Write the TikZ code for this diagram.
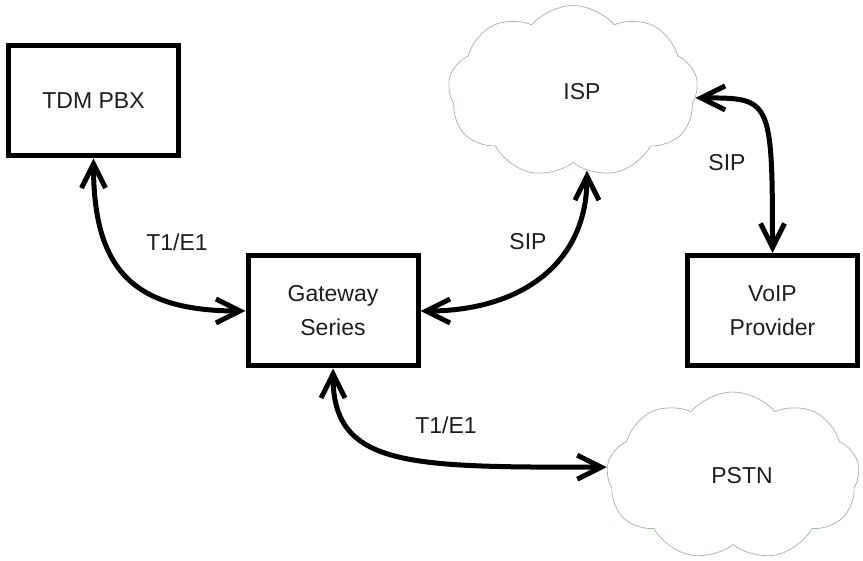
\documentclass[tikz,border=0pt]{standalone}
\usepackage{fontspec}
\setmainfont{Liberation Sans}
\usetikzlibrary{shapes.symbols,arrows.meta}
\definecolor{cloudline}{RGB}{160,182,160}
\definecolor{inktext}{RGB}{30,30,30}

\begin{document}
\begin{tikzpicture}[
  x=1pt, y=-1pt,
  block/.style={rectangle, draw, line width=5pt, minimum width=170pt, minimum height=110pt, font=\fontsize{23}{34}\selectfont, text=inktext, align=center},
  net/.style={cloud, cloud puffs=9, cloud puff arc=100, cloud ignores aspect, draw=cloudline, line width=0.7pt, minimum width=250pt, minimum height=172pt, font=\fontsize{23}{28}\selectfont, text=inktext},
  link/.style={{Straight Barb[length=24pt,width=24pt]}-{Straight Barb[length=24pt,width=24pt]}, line width=5pt},
  lbl/.style={font=\fontsize{23}{28}\selectfont, text=inktext}
]
\useasboundingbox (0,0) rectangle (863,561);

% Equipment
\node[block] (tdm) at (93.5,101) {TDM PBX};
\node[block] (gw) at (333,311) {Gateway\\Series};
\node[block] (voip) at (772.5,310.5) {VoIP\\Provider};

% Networks
\node[net] (isp) at (573,91.5) {\hspace*{18pt}ISP};
\node[net, minimum width=253pt, minimum height=168pt] (pstn) at (733,476) {\hspace*{18pt}PSTN};

% Links
\draw[link] (tdm.south) to[out=-90, in=180, looseness=1.33] (gw.west);
\draw[link] (gw.east) to[out=0, in=-90, looseness=1.13] (isp.-80);
\draw[link] (isp.-3) to[out=0, in=90, out looseness=1.11, in looseness=2.3] (voip.north);
\draw[link] (gw.south) to[out=-90, in=180, out looseness=0.87, in looseness=1.74] (pstn.176);

% Labels
\node[lbl] (tdmgw) at (177,242) {T1/E1};
\node[lbl] (gwisp) at (528,242) {SIP};
\node[lbl] (ispvoip) at (727,163) {SIP};
\node[lbl] (gwpstn) at (446,425) {T1/E1};

\end{tikzpicture}
\end{document}
